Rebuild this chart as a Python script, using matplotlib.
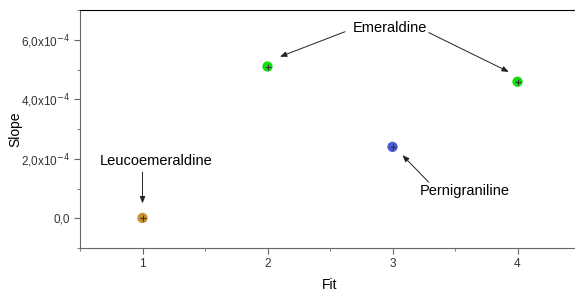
import numpy as np
import matplotlib.pyplot as plt
from matplotlib.ticker import FixedLocator, MultipleLocator

plt.rcParams['font.family'] = ['Liberation Sans', 'DejaVu Sans']

#=====Data=====
names = ['Leucoemeraldine', 'Emeraldine', 'Pernigraniline', 'Emeraldine']
fit = [1, 2, 3, 4]
slope = [0.01e-4, 5.10e-4, 2.40e-4, 4.59e-4]
colors = ['#C8922C', '#10E010', '#4A5AD8', '#10E010']
yticks = [0.0, 2e-4, 4e-4, 6e-4]
ylabels = ['0,0', r'2,0x10$^{-4}$', r'4,0x10$^{-4}$', r'6,0x10$^{-4}$']

fig = plt.figure(figsize=(5.75, 2.95), dpi=100)
ax = fig.add_axes([80/575, 47/295, 500/575, 238/295])

#=====Points=====
ax.scatter(fit, slope, s=55, c=colors, edgecolors='none', zorder=3)
ax.scatter(fit, slope, s=22, marker='+', c='#333333', linewidths=0.8, zorder=4)

ax.set_xlim(0.5, 4.5)
ax.set_ylim(-1e-4, 7e-4)
ax.xaxis.set_major_locator(FixedLocator(fit))
ax.xaxis.set_minor_locator(MultipleLocator(0.5))
ax.yaxis.set_major_locator(FixedLocator(yticks))
ax.yaxis.set_minor_locator(MultipleLocator(1e-4))
ax.set_yticklabels(ylabels)
ax.tick_params(which='both', direction='out', color='#666666', labelsize=8.5, labelcolor='#333333')
ax.tick_params(which='major', length=4)
ax.tick_params(which='minor', length=2.5)
for s in ['left', 'bottom']:
    ax.spines[s].set_color('#666666')
ax.spines['right'].set_visible(False)

ax.set_xlabel('Fit', fontsize=10)
ax.set_ylabel('Slope', fontsize=10)
ax.xaxis.set_label_coords(0.5, -0.125)
ax.yaxis.set_label_coords(-0.115, 0.5)

#=====Labels and arrows=====
ap = dict(arrowstyle='-|>,head_length=0.5,head_width=0.2', color='#222222',
          lw=0.7, mutation_scale=8, shrinkA=0, shrinkB=0)
fs = 10.5
ax.annotate('', xy=(1, 0.5e-4), xytext=(1, 1.55e-4), arrowprops=ap)
ax.text(0.66, 1.92e-4, 'Leucoemeraldine', ha='left', va='center', fontsize=fs)
ax.text(2.98, 6.4e-4, 'Emeraldine', ha='center', va='center', fontsize=fs)
ax.annotate('', xy=(2.10, 5.43e-4), xytext=(2.62, 6.27e-4), arrowprops=ap)
ax.annotate('', xy=(3.93, 4.92e-4), xytext=(3.29, 6.24e-4), arrowprops=ap)
ax.text(3.58, 0.91e-4, 'Pernigraniline', ha='center', va='center', fontsize=fs)
ax.annotate('', xy=(3.08, 2.12e-4), xytext=(3.29, 1.21e-4), arrowprops=ap)

plt.savefig('out.png', dpi=100)
